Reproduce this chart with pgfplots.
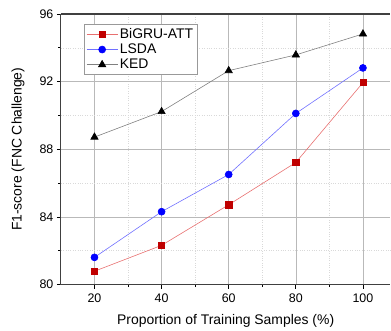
\documentclass[border=0pt]{standalone}
\usepackage{pgfplots}
\pgfplotsset{compat=1.18}
\usepackage{fontspec}
\setmainfont{Liberation Sans}
\definecolor{bred}{HTML}{C00000}
\definecolor{lred}{HTML}{E87070}
\definecolor{lblue}{HTML}{7070FF}
\begin{document}
\begin{tikzpicture}
\begin{axis}[
  scale only axis,
  width=330bp, height=271bp,
  xmin=10, xmax=108.2, ymin=80, ymax=96,
  axis x line=box, axis y line=left,
  axis line style={draw=black!75, line width=1.1pt, -},
  xtick={20,40,60,80,100}, ytick={80,84,88,92,96},
  minor xtick={30,50,70,90}, minor ytick={82,86,90,94},
  tick align=outside, xtick pos=bottom, ytick pos=left,
  major tick length=4bp, minor tick length=2.5bp,
  tick style={black, line width=0.8pt},
  grid=both,
  major grid style={gray!55, line width=0.6pt},
  minor grid style={gray!30, dotted, line width=0.6pt},
  /pgf/number format/assume math mode=true,
  ticklabel style={font=\fontsize{12.5}{14}\selectfont},
  xticklabel style={yshift=-2bp},
  label style={font=\fontsize{14}{16}\selectfont},
  xlabel={Proportion of Training Samples (\%)},
  ylabel={F1-score (FNC Challenge)},
  xlabel style={at={(axis description cs:0.5,0)}, anchor=base, yshift=-40bp},
  ylabel style={at={(axis description cs:-0.1,0.5)}, anchor=south},
  legend style={at={(0.07,0.963)}, anchor=north west, draw=gray!80, line width=0.8pt,
    font=\fontsize{14}{16}\selectfont, row sep=0pt, inner sep=2pt},
  legend cell align=left,
  legend image post style={line width=0.6pt},
  legend image code/.code={\draw[#1] (0bp,0bp) -- (15.5bp,0bp) plot coordinates {(15.5bp,0bp)} -- (31bp,0bp);},
]
\addplot[color=lred, line width=0.6pt, mark=square*, mark options={draw=bred, fill=bred, solid}, mark size=3.1bp]
  coordinates {(20,80.79) (40,82.32) (60,84.72) (80,87.22) (100,91.94)};
\addlegendentry{BiGRU-ATT}
\addplot[color=lblue, line width=0.6pt, mark=*, mark options={draw=blue, fill=blue, solid}, mark size=3.5bp]
  coordinates {(20,81.61) (40,84.31) (60,86.51) (80,90.12) (100,92.81)};
\addlegendentry{LSDA}
\addplot[color=gray, line width=0.6pt, mark=triangle*, mark options={draw=black, fill=black, solid}, mark size=4.2bp]
  coordinates {(20,88.72) (40,90.23) (60,92.65) (80,93.58) (100,94.82)};
\addlegendentry{KED}
\end{axis}
\path (current axis.north west) ++(0pt,14bp) coordinate (tmp1);
\path (current axis.south west) ++(-61bp,-45bp) coordinate (tmp2);
\end{tikzpicture}
\end{document}
